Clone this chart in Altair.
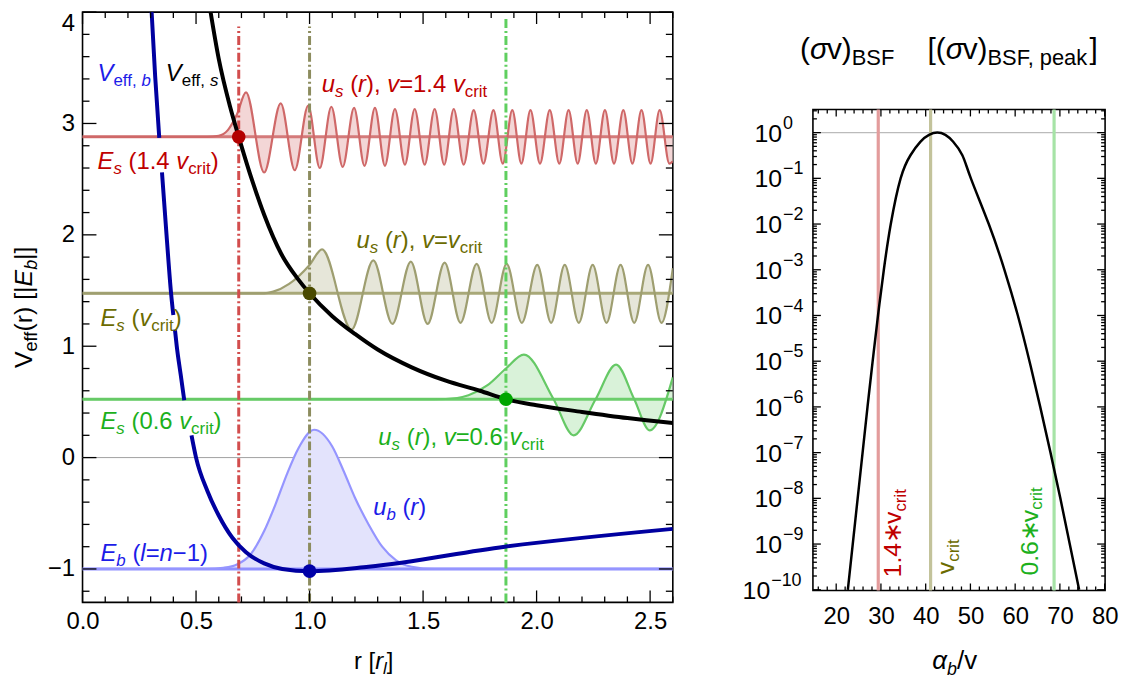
import altair as alt
import pandas as pd

# ---------------- data ----------------
# left panel: effective potentials (units of |E_b|) versus r (units of r_l)
vs_r = [0.56, 0.60, 0.65, 0.688, 0.75, 0.80, 0.875, 0.95, 1.0, 1.1, 1.2, 1.3, 1.45, 1.6, 1.75, 1.865, 2.0, 2.2, 2.4, 2.6]
vs_v = [4.05, 3.58, 3.15, 2.88, 2.47, 2.18, 1.83, 1.60, 1.475, 1.27, 1.11, 0.97, 0.81, 0.69, 0.60, 0.524, 0.47, 0.41, 0.355, 0.31]

vb_r = [0.303, 0.32, 0.338, 0.350, 0.37, 0.39, 0.40, 0.407, 0.415, 0.432, 0.448,
        0.48, 0.50, 0.55, 0.60, 0.66, 0.72, 0.80, 0.88, 1.0, 1.26, 1.86, 2.6]
vb_v = [4.05, 3.42, 2.87, 2.56, 2.0, 1.475, 1.28, 1.15, 1.0, 0.75, 0.515,
        0.20, 0.0, -0.3, -0.52, -0.72, -0.85, -0.95, -1.0, -1.02, -0.98, -0.80, -0.64]
vb_seg = [1, 1, 1, 2, 2, 2, 2, 3, 3, 3, 3, 4, 4, 4, 4, 4, 4, 4, 4, 4, 4, 4, 4]

# energy levels: E_s(1.4 v_crit), E_s(v_crit), E_s(0.6 v_crit), E_b
levels = [2.88, 1.475, 0.524, -1.0]

# scattering / bound wavefunctions (drawn on top of their energy level)
us_red_r = [0.0, 0.55, 0.60, 0.64, 0.68, 0.72, 0.80, 0.873, 0.935, 0.994, 1.045, 1.096, 1.146, 1.196,
            1.242, 1.288, 1.332, 1.376, 1.42, 1.463, 1.507, 1.551, 1.593, 1.635, 1.679, 1.723, 1.766,
            1.810, 1.851, 1.893, 1.933, 1.973, 2.015, 2.058, 2.10, 2.141, 2.181, 2.221, 2.261, 2.301,
            2.341, 2.382, 2.422, 2.462, 2.502, 2.542, 2.585, 2.60]
us_red_u = [2.88, 2.88, 2.89, 2.94, 3.08, 3.28, 2.56, 3.18, 2.58, 3.16, 2.60, 3.15, 2.61, 3.14,
            2.62, 3.14, 2.62, 3.13, 2.63, 3.13, 2.63, 3.13, 2.63, 3.13, 2.63, 3.12, 2.64,
            3.12, 2.64, 3.12, 2.64, 3.12, 2.64, 3.12, 2.64, 3.12, 2.64, 3.12, 2.64, 3.12,
            2.64, 3.12, 2.64, 3.12, 2.64, 3.12, 2.64, 2.66]

us_olv_r = [0.0, 0.80, 0.84, 0.91, 1.0, 1.055, 1.185, 1.281, 1.365, 1.446, 1.52, 1.595, 1.665, 1.736,
            1.802, 1.868, 1.935, 2.003, 2.064, 2.124, 2.186, 2.247, 2.308, 2.37, 2.43, 2.491, 2.55, 2.60]
us_olv_u = [1.475, 1.475, 1.49, 1.56, 1.73, 1.87, 1.15, 1.77, 1.20, 1.76, 1.20, 1.75, 1.21, 1.74,
            1.21, 1.74, 1.21, 1.73, 1.21, 1.73, 1.21, 1.73, 1.21, 1.73, 1.21, 1.73, 1.21, 1.70]

us_grn_r = [0.0, 1.55, 1.65, 1.70, 1.784, 1.865, 1.944, 2.075, 2.163, 2.26, 2.35, 2.43, 2.498, 2.6]
us_grn_u = [0.524, 0.524, 0.535, 0.56, 0.65, 0.80, 0.925, 0.524, 0.20, 0.524, 0.835, 0.524, 0.245, 0.72]

ub_r = [0.0, 0.55, 0.62, 0.68, 0.74, 0.80, 0.85, 0.90, 0.95, 1.02, 1.10, 1.15, 1.20, 1.26, 1.32, 1.38, 1.45, 1.55, 2.6]
ub_u = [-1.0, -1.0, -0.99, -0.96, -0.87, -0.66, -0.42, -0.15, 0.08, 0.25, 0.10, -0.12, -0.36, -0.60, -0.80, -0.92, -0.98, -1.0, -1.0]

# classical turning points (dots) and their vertical markers
dot_r = [0.688, 1.0, 1.865, 1.0]
dot_v = [2.88, 1.475, 0.524, -1.02]
vline_r = [0.688, 1.0, 1.865]
vline_top = [3.87, 3.87, 3.95]

# right panel: (sigma v)_BSF relative to its peak versus alpha_b / v
bsf_x = [22.6, 23.7, 24.8, 25.9, 27.0, 28.15, 29.35, 30.65, 32.2, 34.4, 36.6, 38.8, 40.75, 42.6,
         44.4, 46.15, 48.2, 50.1, 54.1, 57.6, 60.6, 63.2, 65.6, 67.9, 70.1, 72.2, 74.3]
bsf_y = [1e-10, 1e-9, 1e-8, 1e-7, 1e-6, 1e-5, 1e-4, 1e-3, 1e-2, 1e-1, 0.32, 0.63, 0.89, 1.0,
         0.89, 0.63, 0.32, 1e-1, 1e-2, 1e-3, 1e-4, 1e-5, 1e-6, 1e-7, 1e-8, 1e-9, 1e-10]
bsf_vlines = [29.4, 41.1, 68.7]

# tick labels
lx_ticks = [0.0, 0.5, 1.0, 1.5, 2.0, 2.5]
ly_ticks = [-1, 0, 1, 2, 3, 4]
rx_ticks = [20, 30, 40, 50, 60, 70, 80]
ry_vals = [1e0, 1e-1, 1e-2, 1e-3, 1e-4, 1e-5, 1e-6, 1e-7, 1e-8, 1e-9, 1e-10]
ry_exp = ["0", "−1", "−2", "−3", "−4", "−5", "−6", "−7", "−8", "−9", "−10"]

# ---------------- styling / geometry ----------------
FONT = "Liberation Sans"
C_RED_T, C_OLV_T, C_GRN_T, C_BLU_T = "#bf0000", "#6b6b00", "#1cb01c", "#1c1ce8"
LINE_COL = ["#cf6868", "#9e9e70", "#66c966", "#9595ff"]
FILL_COL = ["#f3d6d6", "#e6e6d9", "#d9f2d9", "#e3e3fc"]
LEVEL_COL = ["#d47a7a", "#a8a878", "#6cce6c", "#9090ff"]
DOT_COL = ["#b30000", "#4a4a00", "#00a600", "#0000a8"]
VLINE_COL = ["#d24d4d", "#8c8c5e", "#5fcf5f"]
RVLINE_COL = ["#e39c9c", "#c3c39b", "#a6e3a6"]

LW, LH = 594, 594
LXD, LYD = (0.0, 2.6), (-1.3, 4.0)
XPX = LW / (LXD[1] - LXD[0])
YPX = LH / (LYD[1] - LYD[0])

RW, RH = 294, 484
RXD = (14.8, 80.1)
RLOG = (-10.015, 0.506)
RXPX = RW / (RXD[1] - RXD[0])
RYPX = RH / (RLOG[1] - RLOG[0])
TITLE_H, TITLE_GAP = 81, 13   # right column: title strip above the plot

CW = {' ': 278, '(': 333, ')': 333, '.': 278, ',': 278, '=': 584, '∗': 760, '/': 278,
      '[': 278, ']': 278, '|': 260, '−': 584, 'α': 578, 'σ': 571,
      'B': 667, 'E': 667, 'F': 611, 'S': 667, 'V': 667,
      'a': 556, 'b': 556, 'c': 500, 'e': 556, 'f': 278, 'i': 222, 'k': 500, 'l': 222,
      'n': 556, 'p': 556, 'r': 333, 's': 500, 't': 278, 'u': 556, 'v': 500}
for ch in "0123456789":
    CW[ch] = 556


def tw(s, size):
    return sum(CW.get(c, 556) for c in s) * size / 1000.0


def layout_pieces(pieces, main, sub):
    out, pos = [], 0.0
    for p in pieces:
        text, ital = p[0], p[1]
        is_sub = len(p) > 2 and bool(p[2])
        size = sub if is_sub else main
        lead = len(text) - len(text.lstrip(' '))
        out.append((pos + tw(' ' * lead, size), text.strip(' '), size, ital, is_sub))
        pos += tw(text, size)
    return out, pos


# ---------------- encodings ----------------
xs_L = alt.Scale(domain=list(LXD), nice=False, zero=False)
ys_L = alt.Scale(domain=list(LYD), nice=False, zero=False)
xa_L = alt.Axis(values=lx_ticks, format='.1f', labelFlush=False, ticks=False, domain=False, grid=False,
                labelFontSize=24, labelPadding=7, title=None, labelFont=FONT, labelColor='black')
ya_L = alt.Axis(values=ly_ticks, labelExpr="datum.value < 0 ? '−' + (-datum.value) : '' + datum.value",
                labelFlush=True, ticks=False, domain=False, grid=False, labelFontSize=24, labelPadding=8,
                title=None, labelFont=FONT, labelColor='black')


def XL(f='x'):
    return alt.X(f'{f}:Q', scale=xs_L, axis=xa_L)


def YL(f='y'):
    return alt.Y(f'{f}:Q', scale=ys_L, axis=ya_L)


xs_R = alt.Scale(domain=list(RXD), nice=False, zero=False)
ys_R = alt.Scale(type='log', domain=[10 ** RLOG[0], 10 ** RLOG[1]], nice=False)
xa_R = alt.Axis(values=rx_ticks, labelFlush=False, ticks=False, domain=False, grid=False,
                labelFontSize=24, labelPadding=14, title=None, labelFont=FONT, labelColor='black')


def XR(f='x'):
    return alt.X(f'{f}:Q', scale=xs_R, axis=xa_R)


def YR(f='y'):
    return alt.Y(f'{f}:Q', scale=ys_R, axis=None)


def ticks(XE, YE, W, H, xmaj, xmin, ymaj, ymin, lx, ly):
    out = []
    for vals, L in ((xmaj, lx[0]), (xmin, lx[1])):
        d = pd.DataFrame({'x': vals})
        out.append(alt.Chart(d).mark_rule(color='black', strokeWidth=1.3).encode(
            x=XE(), y=alt.value(H), y2=alt.value(H - L)))
        out.append(alt.Chart(d).mark_rule(color='black', strokeWidth=1.3).encode(
            x=XE(), y=alt.value(0), y2=alt.value(L)))
    for vals, L in ((ymaj, ly[0]), (ymin, ly[1])):
        d = pd.DataFrame({'y': vals})
        out.append(alt.Chart(d).mark_rule(color='black', strokeWidth=1.3).encode(
            y=YE(), x=alt.value(0), x2=alt.value(L)))
        out.append(alt.Chart(d).mark_rule(color='black', strokeWidth=1.3).encode(
            y=YE(), x=alt.value(W), x2=alt.value(W - L)))
    return out


def px_text(pieces, x0, y0, main, sub, color='black', angle=0):
    items, total = layout_pieces(pieces, main, sub)
    out = []
    for off, text, size, ital, is_sub in items:
        d = 0.22 * main if is_sub else 0.0
        if angle == 0:
            px, py = x0 + off, y0 + d
        else:
            px, py = x0 + d, y0 - off
        out.append(alt.Chart(alt.Data(values=[{"k": 0}])).mark_text(
            text=text, font=FONT, fontSize=size, fontStyle='italic' if ital else 'normal',
            color=color, align='left', baseline='alphabetic', angle=angle
        ).encode(x=alt.value(px), y=alt.value(py)))
    return out


def spacer(px, py, align='left', baseline='top'):
    return alt.Chart(alt.Data(values=[{"k": 0}])).mark_text(
        text='.', fontSize=2, color='white', align=align, baseline=baseline
    ).encode(x=alt.value(px), y=alt.value(py))


I, N = True, False
left_labels = [
    ([("V", I), ("eff, ", N, 1), ("b", I, 1)], 0.066, 3.46, C_BLU_T),
    ([("V", I), ("eff, ", N, 1), ("s", I, 1)], 0.367, 3.46, "black"),
    ([("u", I), ("s", I, 1), (" (", N), ("r", I), ("), ", N), ("v", I), ("=1.4 ", N), ("v", I), ("crit", N, 1)], 1.054, 3.36, C_RED_T),
    ([("E", I), ("s", I, 1), (" (1.4 ", N), ("v", I), ("crit", N, 1), (")", N)], 0.066, 2.67, C_RED_T),
    ([("u", I), ("s", I, 1), (" (", N), ("r", I), ("), ", N), ("v", I), ("=", N), ("v", I), ("crit", N, 1)], 1.207, 1.96, C_OLV_T),
    ([("E", I), ("s", I, 1), (" (", N), ("v", I), ("crit", N, 1), (")", N)], 0.079, 1.26, C_OLV_T),
    ([("E", I), ("s", I, 1), (" (0.6 ", N), ("v", I), ("crit", N, 1), (")", N)], 0.079, 0.336, C_GRN_T),
    ([("u", I), ("s", I, 1), (" (", N), ("r", I), ("), ", N), ("v", I), ("=0.6 ", N), ("v", I), ("crit", N, 1)], 1.303, 0.19, C_GRN_T),
    ([("u", I), ("b", I, 1), (" (", N), ("r", I), (")", N)], 1.28, -0.44, C_BLU_T),
    ([("E", I), ("b", I, 1), (" (", N), ("l", I), ("=", N), ("n", I), ("−1)", N)], 0.079, -0.855, C_BLU_T),
]
MAIN, SUBS = 24, 17
lab_rows = []
for pieces, x0, yc, col in left_labels:
    items, _ = layout_pieces(pieces, MAIN, SUBS)
    base = yc - 0.36 * MAIN / YPX
    for off, text, size, ital, is_sub in items:
        lab_rows.append(dict(x=x0 + off / XPX, y=base - (0.2 * MAIN / YPX if is_sub else 0.0),
                             text=text, size=size, color=col, it=int(ital)))
lab_df = pd.DataFrame(lab_rows)

right_labels = [
    ([("1.4∗", N), ("v", N), ("crit", N, 1)], 34.5, -9.73, C_RED_T),
    ([("v", N), ("crit", N, 1)], 46.3, -9.66, C_OLV_T),
    ([("0.6∗", N), ("v", N), ("crit", N, 1)], 65.0, -9.69, C_GRN_T),
]
RMAIN, RSUB = 25, 17
rl_rows = []
for pieces, xb, l0, col in right_labels:
    items, _ = layout_pieces(pieces, RMAIN, RSUB)
    for off, text, size, ital, is_sub in items:
        rl_rows.append(dict(x=xb + (0.2 * RMAIN / RXPX if is_sub else 0.0), y=10 ** (l0 + off / RYPX),
                            text=text, size=size, color=col))
rl_df = pd.DataFrame(rl_rows)

# ---------------- left panel layers ----------------
L = []
L.append(alt.Chart(pd.DataFrame({'y': [0.0]})).mark_rule(color='#a0a0a0', strokeWidth=1).encode(y=YL()))

waves = [(us_red_r, us_red_u, levels[0]), (us_olv_r, us_olv_u, levels[1]),
         (us_grn_r, us_grn_u, levels[2]), (ub_r, ub_u, levels[3])]
for i, (rr, uu, base) in enumerate(waves):
    d = pd.DataFrame({'x': rr, 'y': uu, 'b': [base] * len(rr)})
    L.append(alt.Chart(d).mark_area(interpolate='monotone', color=FILL_COL[i], clip=True).encode(
        x=XL(), y=YL(), y2=alt.Y2('b:Q')))
lev_df = pd.DataFrame({'y': levels, 'c': LEVEL_COL})
L.append(alt.Chart(lev_df).mark_rule(strokeWidth=3).encode(y=YL(), color=alt.Color('c:N', scale=None)))
for i, (rr, uu, base) in enumerate(waves):
    d = pd.DataFrame({'x': rr, 'y': uu})
    L.append(alt.Chart(d).mark_line(interpolate='monotone', color=LINE_COL[i], strokeWidth=2.2, clip=True).encode(
        x=XL(), y=YL()))

vl_df = pd.DataFrame({'x': vline_r, 'y': [LYD[0]] * 3, 'y2': vline_top, 'c': VLINE_COL})
L.append(alt.Chart(vl_df).mark_rule(strokeWidth=3, strokeDash=[9, 3, 2, 3]).encode(
    x=XL(), y=YL(), y2=alt.Y2('y2:Q'), color=alt.Color('c:N', scale=None)))

L.append(alt.Chart(pd.DataFrame({'x': vs_r, 'y': vs_v})).mark_line(
    color='black', strokeWidth=4, interpolate='monotone', clip=True).encode(x=XL(), y=YL()))
L.append(alt.Chart(pd.DataFrame({'x': vb_r, 'y': vb_v, 's': vb_seg})).mark_line(
    color='#0000a0', strokeWidth=4, interpolate='monotone', clip=True).encode(
    x=XL(), y=YL(), detail='s:N'))

L.append(alt.Chart(pd.DataFrame({'x': dot_r, 'y': dot_v, 'c': DOT_COL})).mark_circle(size=190, opacity=1).encode(
    x=XL(), y=YL(), color=alt.Color('c:N', scale=None)))

for it in (0, 1):
    L.append(alt.Chart(lab_df).transform_filter(f"datum.it == {it}").mark_text(
        align='left', baseline='alphabetic', font=FONT, fontStyle='italic' if it else 'normal').encode(
        x=XL(), y=YL(), text='text:N', size=alt.Size('size:Q', scale=None), color=alt.Color('color:N', scale=None)))

L += ticks(XL, YL, LW, LH, lx_ticks,
           [i / 10 for i in range(1, 27) if i % 5],
           ly_ticks, [k / 5 for k in range(-6, 20) if k % 5],
           (12, 6), (14, 7))

# axis titles (left panel)
ytitle = [("V", N), ("eff", N, 1), ("(r) [|", N), ("E", I), ("b", I, 1), ("|]", N)]
_, ytw = layout_pieces(ytitle, 25, 18)
L += px_text(ytitle, -51, LH / 2 + ytw / 2, 25, 18, angle=270)
xtitle = [("r [", N), ("r", I), ("l", I, 1), ("]", N)]
_, xtw = layout_pieces(xtitle, 24, 17)
L += px_text(xtitle, 293 - xtw / 2, 661, 24, 17)
L.append(spacer(-74, 300))

left = alt.layer(*L).properties(width=LW, height=LH)

# ---------------- right panel layers ----------------
R = []
R.append(alt.Chart(pd.DataFrame({'y': [1.0]})).mark_rule(color='#bbbbbb', strokeWidth=1.2).encode(y=YR()))
R.append(alt.Chart(pd.DataFrame({'x': bsf_vlines, 'c': RVLINE_COL})).mark_rule(strokeWidth=3.2).encode(
    x=XR(), color=alt.Color('c:N', scale=None)))
R.append(alt.Chart(pd.DataFrame({'x': bsf_x, 'y': bsf_y})).mark_line(
    color='black', strokeWidth=2.5, interpolate='natural', clip=True).encode(x=XR(), y=YR()))
R.append(alt.Chart(rl_df).mark_text(angle=270, align='left', baseline='alphabetic', font=FONT).encode(
    x=XR(), y=YR(), text='text:N', size=alt.Size('size:Q', scale=None), color=alt.Color('color:N', scale=None)))

R += ticks(XR, YR, RW, RH, rx_ticks,
           [v for v in range(16, 80, 2) if v % 10],
           ry_vals, [m * 10 ** (-k) for k in range(0, 11) for m in range(2, 10) if m * 10 ** (-k) < 10 ** RLOG[1]],
           (7, 4), (8, 4))

ry_df = pd.DataFrame({'y': ry_vals, 'e': ry_exp, 'w': [len(e) for e in ry_exp]})
for cond, xb in (("datum.w <= 2", -31), ("datum.w > 2", -43)):
    R.append(alt.Chart(ry_df).transform_filter(cond).mark_text(
        text='10', align='right', baseline='alphabetic', font=FONT, fontSize=25, dy=9, color='black').encode(
        x=alt.value(xb), y=YR()))
    R.append(alt.Chart(ry_df).transform_filter(cond).mark_text(
        align='left', baseline='alphabetic', font=FONT, fontSize=18, dy=-4, color='black').encode(
        x=alt.value(xb + 1), y=YR(), text='e:N'))

rxtitle = [("α", I), ("b", I, 1), ("/v", N)]
R += px_text(rxtitle, 120, 563, 26, 18)

right_plot = alt.layer(*R).properties(width=RW, height=RH)

# title strip above the right plot
rtitle = [("(", N), ("σ", I), ("v)", N), ("BSF", N, 1), ("    [(", N), ("σ", I), ("v)", N), ("BSF, peak", N, 1), ("]", N)]
title_strip = alt.layer(*px_text(rtitle, -13, 47, 30, 22)).properties(
    width=RW, height=TITLE_H, view=alt.ViewBackground(stroke='transparent'))

right = alt.vconcat(title_strip, right_plot, spacing=TITLE_GAP)

chart = alt.hconcat(left, right, spacing=66).properties(
    padding={"left": 0, "top": 0, "right": 0, "bottom": 0}, background='white'
).configure_view(stroke='black', strokeWidth=1.6).configure_axis(labelFont=FONT, labelColor='black')

chart.save("out.html", embed_options={"renderer": "svg", "actions": False})
